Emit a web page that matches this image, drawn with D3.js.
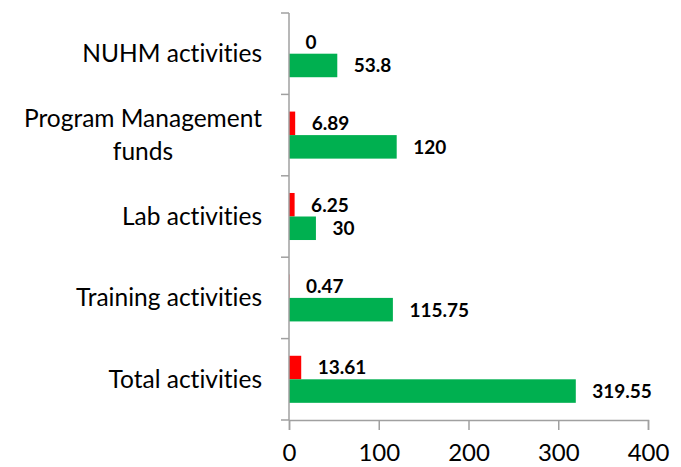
<!DOCTYPE html>
<html>
<head>
<meta charset="utf-8">
<script src="https://cdn.jsdelivr.net/npm/d3@7"></script>
<style>
  html, body { margin: 0; padding: 0; background: #fff; }
  svg { display: block; }
  text { font-family: Lato, "Open Sans", sans-serif; fill: #000; font-variant-ligatures: none; }
</style>
</head>
<body>
<svg id="chart" width="681" height="467"></svg>
<script>
// Activity categories, top to bottom ("\n" marks a wrapped line)
const categories = [
  "NUHM activities",
  "Program Management\nfunds",
  "Lab activities",
  "Training activities",
  "Total activities"
];
// Expenditure (red) and allocation (green), same order as categories
const expenditure = [0, 6.89, 6.25, 0.47, 13.61];
const allocation = [53.8, 120, 30, 115.75, 319.55];
const xTicks = [0, 100, 200, 300, 400];

const series = [
  { key: "expenditure", values: expenditure, color: "#FF0000" },
  { key: "allocation", values: allocation, color: "#00B050" }
];

const svg = d3.select("#chart");
const axisColor = "#a0a0a0";

const x = d3.scaleLinear().domain([0, 400]).range([289, 648]);

const pad = 0.422;
const y = d3.scaleBand()
  .domain(categories)
  .range([13, 420])
  .paddingInner(pad)
  .paddingOuter(pad / 2);

const ySub = d3.scaleBand()
  .domain(series.map(s => s.key))
  .range([0, y.bandwidth()]);

// Bars
const groups = svg.append("g").selectAll("g")
  .data(categories)
  .join("g")
  .attr("transform", d => `translate(0,${y(d)})`);

series.forEach(s => {
  groups.append("rect")
    .attr("x", x(0))
    .attr("y", ySub(s.key))
    .attr("width", (d, i) => x(s.values[i]) - x(0))
    .attr("height", ySub.bandwidth())
    .attr("fill", s.color);

  groups.append("text")
    .attr("x", (d, i) => x(s.values[i]) + 16.5)
    .attr("y", ySub(s.key) + ySub.bandwidth() / 2 + 2)
    .attr("dominant-baseline", "middle")
    .attr("font-size", 19)
    .attr("font-weight", "bold")
    .text((d, i) => s.values[i]);
});

// Category axis: vertical line with ticks between bands
const step = y.step();
const boundaries = d3.range(categories.length + 1)
  .map(i => y(categories[0]) - step * pad / 2 + i * step);

svg.append("line")
  .attr("x1", x(0)).attr("x2", x(0))
  .attr("y1", boundaries[0]).attr("y2", boundaries[boundaries.length - 1])
  .attr("stroke", axisColor).attr("stroke-width", 1.5);

svg.append("g").selectAll("line")
  .data(boundaries)
  .join("line")
  .attr("x1", x(0) - 8).attr("x2", x(0))
  .attr("y1", d => d).attr("y2", d => d)
  .attr("stroke", axisColor).attr("stroke-width", 1.5);

// Category labels, right aligned, wrapped lines centred on each other
const labelRight = 262;
const lineH = 33.5;
categories.forEach(c => {
  const lines = c.split("\n");
  const cy = y(c) + y.bandwidth() / 2;
  const g = svg.append("g");
  const texts = lines.map((ln, i) => g.append("text")
    .attr("font-size", 24.5)
    .attr("y", cy + 8.5 - (lines.length - 1) * lineH / 2 + i * lineH)
    .text(ln));
  const widths = texts.map(t => t.node().getComputedTextLength());
  const maxW = d3.max(widths);
  const centre = labelRight - maxW / 2;
  texts.forEach(t => t.attr("x", centre).attr("text-anchor", "middle"));
});

// Value axis
const xAxis = svg.append("g")
  .attr("transform", "translate(0,420)")
  .call(d3.axisBottom(x).tickValues(xTicks).tickSize(10).tickPadding(14).tickFormat(d3.format("d")));
xAxis.select(".domain").attr("stroke", axisColor).attr("stroke-width", 1.5);
xAxis.selectAll(".tick line").attr("stroke", axisColor).attr("stroke-width", 1.5);
xAxis.selectAll(".tick text")
  .attr("font-size", 24)
  .attr("font-family", "Lato, 'Open Sans', sans-serif")
  .attr("fill", "#000");
</script>
</body>
</html>
